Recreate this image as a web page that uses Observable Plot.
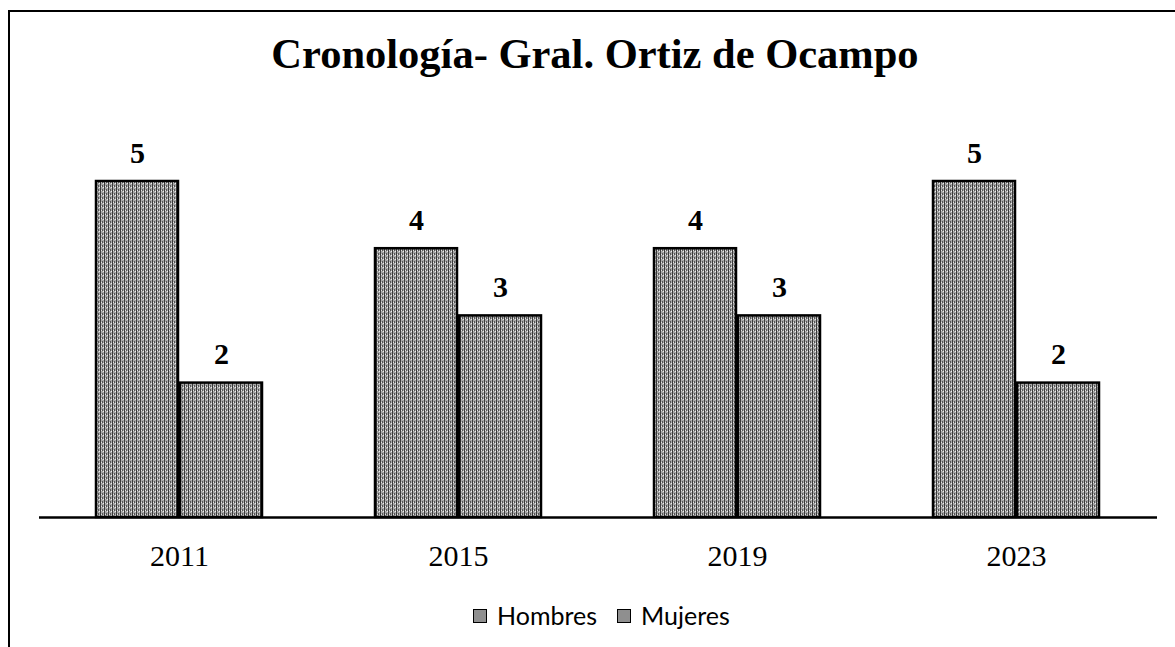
<!DOCTYPE html>
<html>
<head>
<meta charset="utf-8">
<script src="https://cdn.jsdelivr.net/npm/d3@7"></script>
<script src="https://cdn.jsdelivr.net/npm/@observablehq/plot@0.6"></script>
<style>
  html, body { margin: 0; padding: 0; background: #fff; overflow: hidden; }
  #wrap { position: relative; width: 1175px; height: 647px; overflow: hidden; }
  #frame { position: absolute; left: 8px; top: 10px; width: 1300px; height: 800px;
           border-top: 2px solid #000; border-left: 2px solid #000; }
  #title { position: absolute; left: 0; top: 33px; width: 1190px; text-align: center;
           font-family: "Liberation Serif", "DejaVu Serif", serif; font-weight: bold;
           font-size: 42.5px; line-height: 1; color: #000; }
  #chart { position: absolute; left: 0; top: 100px; }
  #legend { position: absolute; left: 473px; top: 603px; display: flex; align-items: center;
            font-family: Lato, "Open Sans", sans-serif; font-size: 25px; line-height: 1; color: #000; }
  .item { display: flex; align-items: center; margin-right: 20px; }
  .sw { width: 12px; height: 12px; border: 1.5px solid #000; background: #8f8f8f; margin-right: 10px; }
</style>
</head>
<body>
<div id="wrap">
  <div id="frame"></div>
  <div id="title"></div>
  <div id="chart"></div>
  <div id="legend"></div>
</div>
<script>
const title = "Cronología- Gral. Ortiz de Ocampo";
const years = ["2011", "2015", "2019", "2023"];
const series = ["Hombres", "Mujeres"];
const hombres = [5, 4, 4, 5];
const mujeres = [2, 3, 3, 2];

const rowsH = years.map((y, i) => ({year: y, serie: series[0], value: hombres[i]}));
const rowsM = years.map((y, i) => ({year: y, serie: series[1], value: mujeres[i]}));

document.getElementById("title").textContent = title;

const serif = "Liberation Serif, DejaVu Serif, serif";

const plot = Plot.plot({
  width: 1175,
  height: 490,
  marginTop: 81,
  marginBottom: 73,
  marginLeft: 39,
  marginRight: 18,
  style: {background: "transparent", overflow: "visible"},
  x: {domain: years, paddingInner: 0.405, paddingOuter: 0.206, axis: null},
  y: {domain: [0, 5], axis: null},
  marks: [
    Plot.barY(rowsH, {x: "year", y: "value", insetRight: 84, fill: "url(#tex)", stroke: "#000", strokeWidth: 2.5}),
    Plot.barY(rowsM, {x: "year", y: "value", insetLeft: 84, fill: "url(#tex)", stroke: "#000", strokeWidth: 2.5}),
    Plot.ruleY([0], {stroke: "#000", strokeWidth: 2.5}),
    Plot.text(rowsH, {x: "year", y: "value", text: d => String(d.value), dx: -42, dy: -19, lineAnchor: "bottom",
      fontFamily: serif, fontWeight: "bold", fontSize: 30, fill: "#000"}),
    Plot.text(rowsM, {x: "year", y: "value", text: d => String(d.value), dx: 42, dy: -19, lineAnchor: "bottom",
      fontFamily: serif, fontWeight: "bold", fontSize: 30, fill: "#000"}),
    Plot.axisX({tickSize: 0, tickPadding: 27, fontSize: 30, fontFamily: serif, label: null, fill: "#000"})
  ]
});

// texture pattern for bars (style only)
const ns = "http://www.w3.org/2000/svg";
const defs = document.createElementNS(ns, "defs");
const pat = document.createElementNS(ns, "pattern");
pat.setAttribute("id", "tex");
pat.setAttribute("patternUnits", "userSpaceOnUse");
pat.setAttribute("width", "4");
pat.setAttribute("height", "4");
const bg = document.createElementNS(ns, "rect");
bg.setAttribute("width", "4"); bg.setAttribute("height", "4"); bg.setAttribute("fill", "#a8a8a8");
pat.appendChild(bg);
[[0,0,1,4,"#3a3a3a"],[2,1,1,2,"#555"],[3,3,1,1,"#eee"],[1,2,1,1,"#e4e4e4"]].forEach(([x,y,w,h,c]) => {
  const r = document.createElementNS(ns, "rect");
  r.setAttribute("x", x); r.setAttribute("y", y); r.setAttribute("width", w); r.setAttribute("height", h);
  r.setAttribute("fill", c);
  pat.appendChild(r);
});
defs.appendChild(pat);
plot.insertBefore(defs, plot.firstChild);
document.getElementById("chart").appendChild(plot);

const legend = document.getElementById("legend");
series.forEach(s => {
  const it = document.createElement("div");
  it.className = "item";
  const sw = document.createElement("div");
  sw.className = "sw";
  const tx = document.createElement("span");
  tx.textContent = s;
  it.appendChild(sw); it.appendChild(tx);
  legend.appendChild(it);
});
</script>
</body>
</html>
